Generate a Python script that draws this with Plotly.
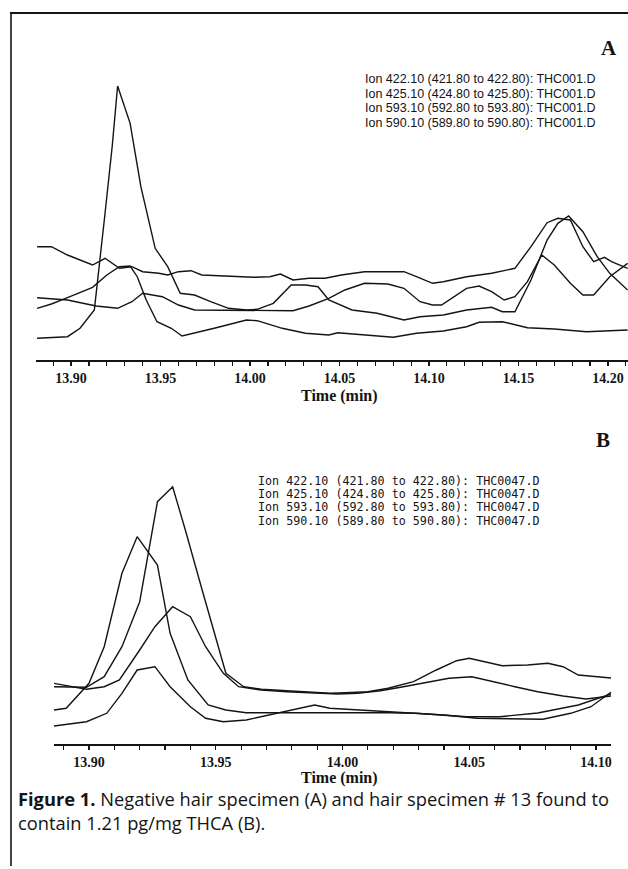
import plotly.graph_objects as go

# ---------------- Panel A data (negative hair specimen, THC001.D) ----------------
a_t_422 = [13.881, 13.889, 13.898, 13.905, 13.913, 13.919, 13.923, 13.926, 13.933, 13.939,
           13.947, 13.954, 13.961, 13.969, 13.978, 13.988, 13.998, 14.004, 14.013, 14.023,
           14.031, 14.038, 14.044, 14.057, 14.071, 14.086, 14.095, 14.108, 14.121, 14.135,
           14.141, 14.148, 14.157, 14.166, 14.172, 14.178, 14.186, 14.194, 14.201, 14.211]
a_v_422 = [21.7, 22.7, 23.3, 31.7, 50, 147, 214, 274, 236.7, 173.3,
           111.7, 93.3, 66.7, 65, 58.3, 51.7, 50, 50.7, 56.7, 75,
           75, 73.3, 60, 50, 46.7, 40, 43.3, 45, 50, 52.7,
           48.3, 48.3, 80, 120, 136.7, 144, 128.3, 103.3, 86.7, 70]

a_t_425 = [13.881, 13.889, 13.898, 13.912, 13.920, 13.927, 13.933, 13.937, 13.942, 13.948,
           13.956, 13.962, 13.980, 13.998, 14.004, 14.018, 14.031, 14.044, 14.049, 14.064,
           14.080, 14.093, 14.108, 14.121, 14.128, 14.141, 14.155, 14.170, 14.188, 14.211]
a_v_425 = [51.7, 56, 62.3, 72.7, 85, 93.3, 94, 83.3, 60, 38.3,
           31.7, 24, 31.7, 40, 39.3, 31.7, 26.7, 25, 27.3, 25,
           22.7, 26.7, 29, 33.3, 37.7, 38.3, 32.3, 31, 28.3, 30]

a_t_593 = [13.881, 13.898, 13.914, 13.926, 13.934, 13.940, 13.951, 13.960, 13.969, 13.980,
           13.993, 14.004, 14.015, 14.024, 14.033, 14.044, 14.053, 14.064, 14.077, 14.086,
           14.095, 14.102, 14.107, 14.115, 14.121, 14.128, 14.135, 14.142, 14.148, 14.155,
           14.163, 14.170, 14.179, 14.186, 14.192, 14.201, 14.211]
a_v_593 = [62.3, 60, 54, 51.7, 58.3, 66.7, 63.3, 55, 50, 50,
           50, 50, 50, 49.3, 54, 61.7, 70, 76.7, 76, 71.7,
           58.3, 55, 55, 65, 71.7, 74, 68.3, 60, 63.3, 78.3,
           105, 95, 76.7, 65, 65, 83.3, 96.7]

a_t_590 = [13.881, 13.889, 13.898, 13.912, 13.919, 13.927, 13.934, 13.940, 13.949, 13.954,
           13.960, 13.967, 13.973, 13.984, 13.993, 14.002, 14.011, 14.017, 14.024, 14.033,
           14.042, 14.051, 14.064, 14.080, 14.086, 14.093, 14.102, 14.108, 14.121, 14.135,
           14.148, 14.157, 14.166, 14.172, 14.179, 14.186, 14.192, 14.198, 14.202, 14.211]
a_v_590 = [113.3, 113.3, 105, 95, 101.7, 91.7, 93.3, 88.3, 86.7, 85,
           88.3, 89.3, 85, 84, 83.3, 82.7, 83.3, 86, 80, 81.7,
           81.7, 85, 88.3, 88.3, 88.3, 83.3, 76.7, 78.3, 83.3, 86.7,
           91.7, 113.3, 137.3, 141.7, 140, 113.3, 98.3, 102.7, 98.3, 91.7]

# ---------------- Panel B data (hair specimen #13, THC0047.D) ----------------
b_t_422 = [13.886, 13.899, 13.906, 13.913, 13.920, 13.927, 13.933, 13.938, 13.945, 13.950,
           13.954, 13.961, 13.968, 13.978, 13.987, 13.995, 14.001, 14.010, 14.018, 14.028,
           14.037, 14.045, 14.050, 14.057, 14.063, 14.073, 14.081, 14.087, 14.093, 14.106]
b_v_422 = [57.3, 56.7, 67.3, 97.3, 142.3, 242.3, 257.3, 214, 150.7, 107.3,
           70.7, 57.3, 54.7, 53.3, 52.3, 50.7, 51.3, 52.3, 55.7, 62.3,
           74, 83.3, 85.7, 81.3, 78.3, 79, 80.7, 77.3, 69, 66]

b_t_425 = [13.886, 13.891, 13.900, 13.906, 13.913, 13.919, 13.927, 13.932, 13.939, 13.947,
           13.954, 13.962, 13.975, 13.989, 14.000, 14.009, 14.018, 14.029, 14.040, 14.049,
           14.062, 14.077, 14.093, 14.106]
b_v_425 = [34, 35.7, 60.7, 97.3, 170.7, 207.3, 179, 110.7, 64, 39,
           34, 31.3, 31.3, 31.3, 31.3, 32, 31.3, 30.7, 29, 27.3,
           27.3, 31, 39, 50]

b_t_593 = [13.886, 13.899, 13.906, 13.912, 13.920, 13.926, 13.933, 13.940, 13.946, 13.953,
           13.959, 13.968, 13.978, 13.989, 13.998, 14.006, 14.015, 14.024, 14.034, 14.042,
           14.051, 14.059, 14.068, 14.077, 14.087, 14.096, 14.106]
b_v_593 = [60.7, 54.7, 57.3, 64, 94, 117.3, 137.3, 127.3, 97.3, 70.7,
           57.3, 54, 52.3, 51.3, 50, 50.7, 53.3, 57.3, 62.3, 65.7,
           67.3, 62.3, 57.3, 52.3, 48, 45, 48]

b_t_590 = [13.886, 13.899, 13.907, 13.913, 13.919, 13.926, 13.932, 13.940, 13.946, 13.953,
           13.962, 13.974, 13.982, 13.989, 13.995, 14.006, 14.015, 14.029, 14.040, 14.053,
           14.067, 14.079, 14.090, 14.098, 14.106]
b_v_590 = [18, 22.3, 30.7, 50.7, 74, 77.3, 57.3, 37.3, 25.7, 22.3,
           24, 30.7, 34.7, 39, 35.7, 34, 33.3, 30.7, 29, 25.7,
           25, 24.7, 30.7, 37.3, 52]

# ---------------- Text ----------------
a_legend = ["Ion 422.10 (421.80 to 422.80): THC001.D",
            "Ion 425.10 (424.80 to 425.80): THC001.D",
            "Ion 593.10 (592.80 to 593.80): THC001.D",
            "Ion 590.10 (589.80 to 590.80): THC001.D"]
b_legend = ["Ion 422.10 (421.80 to 422.80): THC0047.D",
            "Ion 425.10 (424.80 to 425.80): THC0047.D",
            "Ion 593.10 (592.80 to 593.80): THC0047.D",
            "Ion 590.10 (589.80 to 590.80): THC0047.D"]
caption = ("<b>Figure 1.</b> Negative hair specimen (A) and hair specimen # 13 found to<br>"
           "contain 1.21 pg/mg THCA (B).")

W, H = 628, 869


def px(x):
    return x / W


def py(y):
    return 1 - y / H


INK = "#141414"
fig = go.Figure()

a_series = [(a_t_422, a_v_422), (a_t_425, a_v_425), (a_t_593, a_v_593), (a_t_590, a_v_590)]
b_series = [(b_t_422, b_v_422), (b_t_425, b_v_425), (b_t_593, b_v_593), (b_t_590, b_v_590)]
for (t, v), name in zip(a_series, a_legend):
    fig.add_trace(go.Scatter(x=t, y=v, mode="lines", name=name,
                             line=dict(color=INK, width=1.4), xaxis="x", yaxis="y"))
for (t, v), name in zip(b_series, b_legend):
    fig.add_trace(go.Scatter(x=t, y=v, mode="lines", name=name,
                             line=dict(color=INK, width=1.4), xaxis="x2", yaxis="y2"))

serif = "Liberation Serif, Times New Roman, serif"
tickfont = dict(family=serif, size=14, color=INK, weight="bold")

common_x = dict(showline=True, linewidth=2, linecolor=INK, mirror=False,
                ticks="outside", ticklen=4, tickwidth=1.2, tickcolor=INK,
                tick0=13.90, dtick=0.05, tickformat=".2f", tickfont=tickfont,
                minor=dict(ticks="outside", dtick=0.01, tick0=13.90, ticklen=4,
                           tickwidth=1.2, tickcolor=INK, showgrid=False),
                showgrid=False, zeroline=False, fixedrange=True)
common_y = dict(visible=False, showgrid=False, zeroline=False, fixedrange=True)

fig.update_layout(
    width=W, height=H,
    margin=dict(l=0, r=0, t=0, b=0),
    paper_bgcolor="white", plot_bgcolor="white",
    showlegend=False,
    xaxis=dict(domain=[px(36), px(628)], range=[13.8804, 14.2112], anchor="y", **common_x),
    yaxis=dict(domain=[py(360), py(20)], range=[0, 340], anchor="x", **common_y),
    xaxis2=dict(domain=[px(54), px(611)], range=[13.8862, 14.1059], anchor="y2", **common_x),
    yaxis2=dict(domain=[py(744), py(440)], range=[0, 304], anchor="x2", **common_y),
)

ann = []
# panel letters
ann.append(dict(text="<b>A</b>", x=px(609), y=py(48), font=dict(family=serif, size=21, color=INK)))
ann.append(dict(text="<b>B</b>", x=px(603), y=py(440), font=dict(family=serif, size=21, color=INK)))
# axis titles
ann.append(dict(text="<b>Time (min)</b>", x=px(339), y=py(396), font=dict(family=serif, size=16, color=INK)))
ann.append(dict(text="<b>Time (min)</b>", x=px(339), y=py(778), font=dict(family=serif, size=16, color=INK)))
for a in ann:
    a.update(xref="paper", yref="paper", showarrow=False, xanchor="center", yanchor="middle")

# ion legends
for i, line in enumerate(a_legend):
    ann.append(dict(text=line, x=px(363), y=py(79 + i * 14.5), xref="paper", yref="paper",
                    showarrow=False, xanchor="left", yanchor="middle",
                    font=dict(family="Liberation Sans, Arial, sans-serif", size=12.5, color=INK)))
for i, line in enumerate(b_legend):
    ann.append(dict(text=line, x=px(256), y=py(481 + i * 13.2), xref="paper", yref="paper",
                    showarrow=False, xanchor="left", yanchor="middle",
                    font=dict(family="DejaVu Sans Mono, monospace", size=11.7, color=INK)))

# caption (two lines in one text block)
ann.append(dict(text=caption, x=px(16), y=py(810), xref="paper", yref="paper", showarrow=False,
                xanchor="left", yanchor="middle", align="left",
                font=dict(family="Open Sans, Noto Sans, sans-serif", size=18.3, color=INK)))
fig.update_layout(annotations=ann)

# frame lines (top and left border of the figure box)
fig.add_shape(type="line", xref="paper", yref="paper", x0=px(10), x1=px(628), y0=py(13), y1=py(13),
              line=dict(color=INK, width=2))
fig.add_shape(type="line", xref="paper", yref="paper", x0=px(11), x1=px(11), y0=py(12), y1=py(866),
              line=dict(color=INK, width=1.6))

fig.write_html("out.html",
               config={"displayModeBar": False, "staticPlot": True},
               post_script="document.body.style.margin='0';document.body.style.overflow='hidden';")
